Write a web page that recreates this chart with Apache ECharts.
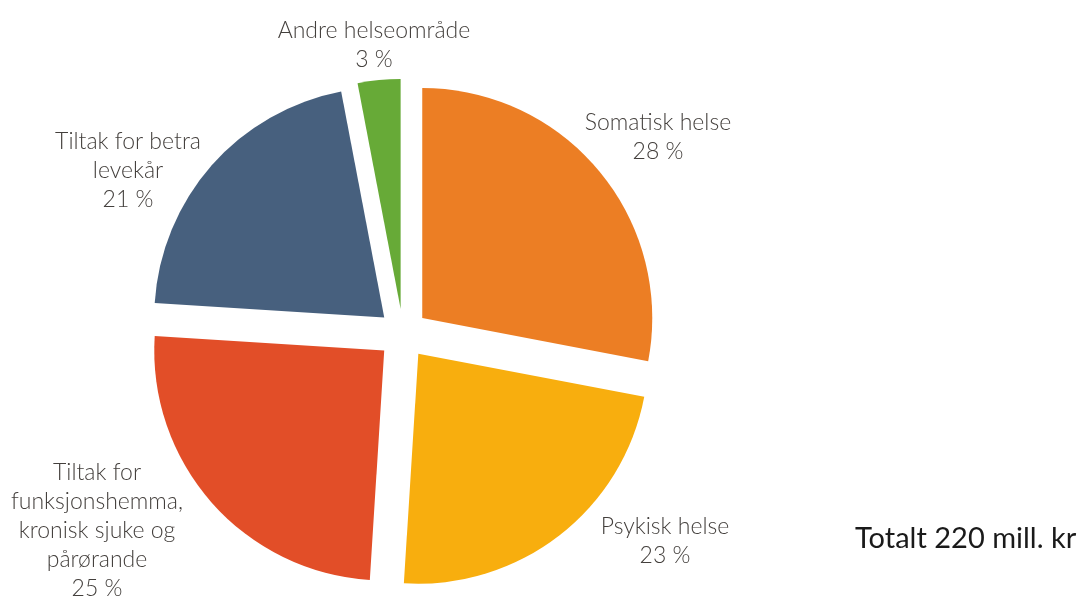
<!DOCTYPE html>
<html>
<head>
<meta charset="utf-8">
<script src="https://cdn.jsdelivr.net/npm/echarts@6/dist/echarts.min.js"></script>
<style>
    html, body { margin: 0; padding: 0; background: #fff; }
    #chart { width: 1080px; height: 599px; }
</style>
</head>
<body>
<div id="chart"></div>
<script>
// data, clockwise from 12 o'clock
var categories = ['Somatisk helse', 'Psykisk helse', 'Tiltak for\nfunksjonshemma,\nkronisk sjuke og\npårørande', 'Tiltak for betra\nlevekår', 'Andre helseområde'];
var shares = [28, 23, 25, 21, 3];
var totalText = 'Totalt 220 mill. kr';

var colors = ['#EC7E24', '#F8AE0E', '#E24E28', '#47607E', '#67AA37'];
var explode = [25, 30, 25, 23, 19];
// label centres (px)
var labelX = [658, 665, 97, 128, 374];
var labelY = [137, 541, 531, 171, 45];

var chart = echarts.init(document.getElementById('chart'));

var pieData = categories.map(function (name, i) {
    return {
        name: name,
        value: shares[i],
        selected: true,
        selectedOffset: explode[i],
        itemStyle: { color: colors[i] }
    };
});

// labels as plain text, placed next to each slice
var labels = categories.map(function (name, i) {
    return {
        type: 'text',
        x: labelX[i],
        y: labelY[i],
        style: {
            text: name + '\n' + shares[i] + ' %',
            fontFamily: 'Lato',
            fontWeight: 300,
            fontSize: 23,
            lineHeight: 29,
            fill: '#433f3c',
            align: 'center',
            verticalAlign: 'middle'
        }
    };
});

labels.push({
    type: 'text',
    left: 855,
    top: 524,
    style: {
        text: totalText,
        fontFamily: 'Lato',
        fontSize: 29,
        fill: '#1a1a1a'
    }
});

var option = {
    animation: false,
    graphic: labels,
    series: [{
        type: 'pie',
        center: [403, 334],
        radius: 230,
        startAngle: 90,
        clockwise: true,
        selectedMode: 'multiple',
        selectedOffset: 25,
        emphasis: { disabled: true },
        itemStyle: { borderWidth: 0 },
        label: { show: false },
        labelLine: { show: false },
        data: pieData
    }]
};
chart.setOption(option);
</script>
</body>
</html>
